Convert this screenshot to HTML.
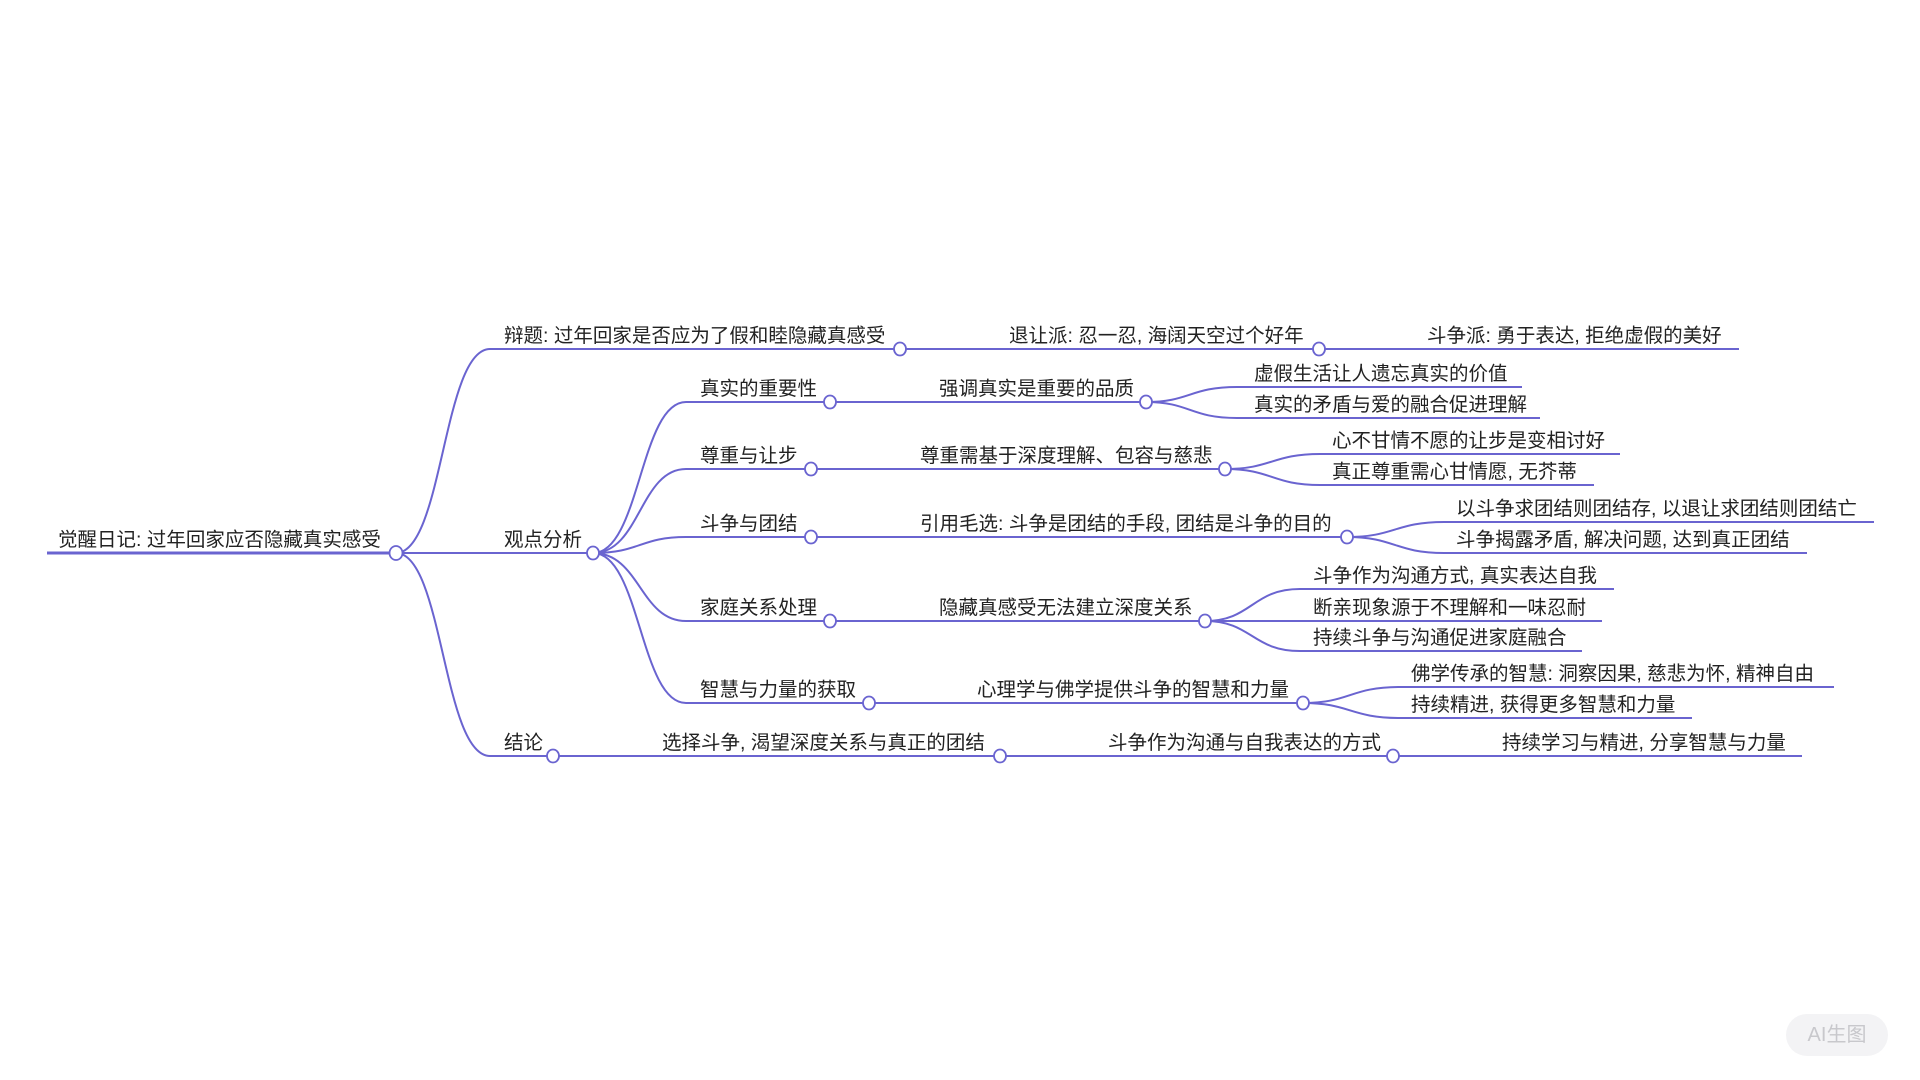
<!DOCTYPE html>
<html><head><meta charset="utf-8"><style>
html,body{margin:0;padding:0;background:#fff;width:1920px;height:1080px;overflow:hidden}
svg text{font-family:"Liberation Sans","Noto Sans CJK SC",sans-serif;font-size:19.5px;fill:#222}
.wm{position:absolute;left:1786px;top:1014px;width:102px;height:42px;border-radius:21px;background:#f3f3f5;color:#c8c8cc;font:20px "Liberation Sans","Noto Sans CJK SC",sans-serif;text-align:center;line-height:42px}
</style></head><body>
<svg width="1920" height="1080" xmlns="http://www.w3.org/2000/svg">
<g fill="none" stroke="#6a64d0" stroke-width="2">
<path d="M47 553 L396 553" stroke-width="3"/>
<path d="M396 553 C443 553 443 349 490 349 L900 349"/>
<path d="M396 553 L593 553"/>
<path d="M396 553 C443 553 443 756 490 756 L553 756"/>
<path d="M900 349 L1319 349 M1319 349 L1739 349"/>
<path d="M593 553 C640 553 640 402 686 402 L830 402"/>
<path d="M593 553 C640 553 640 469 686 469 L811 469"/>
<path d="M593 553 C640 553 640 537 686 537 L811 537"/>
<path d="M593 553 C640 553 640 621 686 621 L830 621"/>
<path d="M593 553 C640 553 640 703 686 703 L869 703"/>
<path d="M830 402 L1146 402 M811 469 L1225 469 M811 537 L1347 537 M830 621 L1205 621 M869 703 L1303 703"/>
<path d="M1146 402 C1190 402 1190 387 1237 387 L1522 387"/>
<path d="M1146 402 C1190 402 1190 418 1237 418 L1540 418"/>
<path d="M1225 469 C1272 469 1272 454 1320 454 L1620 454"/>
<path d="M1225 469 C1272 469 1272 485 1320 485 L1594 485"/>
<path d="M1347 537 C1395 537 1395 522 1444 522 L1874 522"/>
<path d="M1347 537 C1395 537 1395 553 1444 553 L1807 553"/>
<path d="M1205 621 C1252 621 1252 589 1300 589 L1614 589"/>
<path d="M1205 621 L1602 621"/>
<path d="M1205 621 C1252 621 1252 651 1300 651 L1582 651"/>
<path d="M1303 703 C1350 703 1350 687 1400 687 L1834 687"/>
<path d="M1303 703 C1350 703 1350 718 1400 718 L1692 718"/>
<path d="M553 756 L1802 756"/>
</g>
<g fill="#fff" stroke="#6a64d0" stroke-width="1.8">
<ellipse cx="396" cy="553" rx="6.5" ry="7"/>
<ellipse cx="900" cy="349" rx="6" ry="6.5"/>
<ellipse cx="593" cy="553" rx="6" ry="6.5"/>
<ellipse cx="553" cy="756" rx="6" ry="6.5"/>
<ellipse cx="1319" cy="349" rx="6" ry="6.5"/>
<ellipse cx="830" cy="402" rx="6" ry="6.5"/>
<ellipse cx="811" cy="469" rx="6" ry="6.5"/>
<ellipse cx="811" cy="537" rx="6" ry="6.5"/>
<ellipse cx="830" cy="621" rx="6" ry="6.5"/>
<ellipse cx="869" cy="703" rx="6" ry="6.5"/>
<ellipse cx="1146" cy="402" rx="6" ry="6.5"/>
<ellipse cx="1225" cy="469" rx="6" ry="6.5"/>
<ellipse cx="1347" cy="537" rx="6" ry="6.5"/>
<ellipse cx="1205" cy="621" rx="6" ry="6.5"/>
<ellipse cx="1303" cy="703" rx="6" ry="6.5"/>
<ellipse cx="1000" cy="756" rx="6" ry="6.5"/>
<ellipse cx="1393" cy="756" rx="6" ry="6.5"/>
</g>
<text x="58" y="546">觉醒日记: 过年回家应否隐藏真实感受</text>
<text x="504" y="342">辩题: 过年回家是否应为了假和睦隐藏真感受</text>
<text x="504" y="546">观点分析</text>
<text x="504" y="749">结论</text>
<text x="1009" y="342">退让派: 忍一忍, 海阔天空过个好年</text>
<text x="1427" y="342">斗争派: 勇于表达, 拒绝虚假的美好</text>
<text x="700" y="395">真实的重要性</text>
<text x="700" y="462">尊重与让步</text>
<text x="700" y="530">斗争与团结</text>
<text x="700" y="614">家庭关系处理</text>
<text x="700" y="696">智慧与力量的获取</text>
<text x="939" y="395">强调真实是重要的品质</text>
<text x="920" y="462">尊重需基于深度理解、包容与慈悲</text>
<text x="920" y="530">引用毛选: 斗争是团结的手段, 团结是斗争的目的</text>
<text x="939" y="614">隐藏真感受无法建立深度关系</text>
<text x="977" y="696">心理学与佛学提供斗争的智慧和力量</text>
<text x="1254" y="380">虚假生活让人遗忘真实的价值</text>
<text x="1254" y="411">真实的矛盾与爱的融合促进理解</text>
<text x="1332" y="447">心不甘情不愿的让步是变相讨好</text>
<text x="1332" y="478">真正尊重需心甘情愿, 无芥蒂</text>
<text x="1456" y="515">以斗争求团结则团结存, 以退让求团结则团结亡</text>
<text x="1456" y="546">斗争揭露矛盾, 解决问题, 达到真正团结</text>
<text x="1313" y="582">斗争作为沟通方式, 真实表达自我</text>
<text x="1313" y="614">断亲现象源于不理解和一味忍耐</text>
<text x="1313" y="644">持续斗争与沟通促进家庭融合</text>
<text x="1411" y="680">佛学传承的智慧: 洞察因果, 慈悲为怀, 精神自由</text>
<text x="1411" y="711">持续精进, 获得更多智慧和力量</text>
<text x="662" y="749">选择斗争, 渴望深度关系与真正的团结</text>
<text x="1108" y="749">斗争作为沟通与自我表达的方式</text>
<text x="1502" y="749">持续学习与精进, 分享智慧与力量</text>
</svg>
<div class="wm">AI生图</div>
</body></html>
